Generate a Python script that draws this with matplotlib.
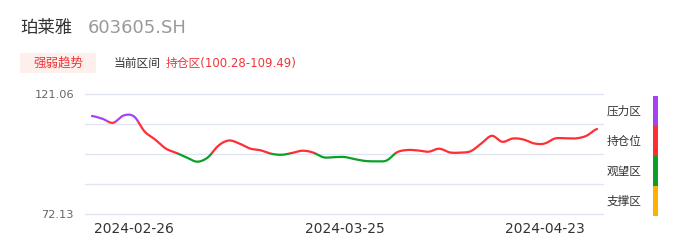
import numpy as np
import pandas as pd
import matplotlib
matplotlib.use('Agg')
import matplotlib.pyplot as plt
from matplotlib.patches import Rectangle

plt.rcParams['font.family'] = ['DejaVu Sans', 'Noto Sans CJK SC']

# header texts
stock_name = '珀莱雅'
stock_code = '603605.SH'
tag_text = '强弱趋势'
zone_caption = '当前区间'
current_zone = '持仓区(100.28-109.49)'

# trading days 2024-02-20 .. 2024-04-30 (Qingming holiday closed)
dates = [d.strftime('%Y-%m-%d') for d in pd.bdate_range('2024-02-20', '2024-04-30')
         if d.strftime('%Y-%m-%d') not in ('2024-04-04', '2024-04-05')]

prices = [112.09, 110.95, 109.32, 112.29, 111.89, 105.77, 102.51, 98.84, 97.08, 95.17,
          93.46, 95.17, 99.94, 102.10, 100.88, 98.84, 98.14, 96.74, 96.27, 97.00,
          97.94, 97.21, 95.25, 95.29, 95.37, 94.47, 93.74, 93.62, 93.94, 97.33,
          98.23, 98.02, 97.53, 98.76, 97.25, 97.17, 97.74, 100.88, 104.02, 101.57,
          102.92, 102.51, 100.92, 100.84, 102.92, 103.00, 102.96, 104.02, 106.79]

tick_dates = ['2024-02-26', '2024-03-25', '2024-04-23']
y_min, y_max = 72.13, 121.06

zone_names = ['压力区', '持仓位', '观望区', '支撑区']
zone_colors = ['#a244f4', '#ff2e35', '#0aa028', '#ffb100']
# lower edge of each zone as coloured on the line
zone_lows = [109.49, 96.9, 84.36, 0]

W, H = 686, 247


def fx(px):
    return px / W


def fy(py):
    return 1 - py / H


# catmull-rom, only for drawing a smooth line through the daily points
def smooth(y, n=12):
    y = np.asarray(y, dtype=float)
    xs, ys = [], []
    for i in range(len(y) - 1):
        p0 = y[max(i - 1, 0)]
        p1 = y[i]
        p2 = y[i + 1]
        p3 = y[min(i + 2, len(y) - 1)]
        t = np.linspace(0, 1, n, endpoint=False)
        ys.append(0.5 * (2 * p1 + (-p0 + p2) * t + (2 * p0 - 5 * p1 + 4 * p2 - p3) * t ** 2
                         + (-p0 + 3 * p1 - 3 * p2 + p3) * t ** 3))
        xs.append(i + t)
    xs.append([len(y) - 1])
    ys.append([y[-1]])
    return np.concatenate(xs), np.concatenate(ys)


fig = plt.figure(figsize=(W / 100, H / 100), dpi=100)
ax = fig.add_axes([fx(85), fy(214), fx(603) - fx(85), fy(94) - fy(214)])

sx, sy = smooth(prices)
n = len(prices)
highs = [1000] + zone_lows[:-1]
for lo, hi, c in zip(zone_lows, highs, zone_colors):
    line, = ax.plot(sx, sy, color=c, lw=1.6, solid_capstyle='round', zorder=3)
    clip = Rectangle((-10, lo), n + 20, hi - lo, transform=ax.transData)
    line.set_clip_path(clip)

ax.set_xlim(-0.665, n - 1 + 0.57)
ax.set_ylim(y_min, y_max)

grid_vals = np.linspace(y_min, y_max, 5)
for g in grid_vals:
    ax.axhline(g, color='#e0e6f1', lw=1, clip_on=False, zorder=1)
ax.set_yticks(grid_vals)
ax.set_yticklabels(['%.2f' % y_min, '', '', '', '%.2f' % y_max])

ax.set_xticks([dates.index(d) for d in tick_dates])
ax.set_xticklabels(tick_dates)
ax.tick_params(axis='x', length=0, pad=6, labelsize=10, labelcolor='#333333')
ax.tick_params(axis='y', length=0, pad=8, labelsize=8.2, labelcolor='#666666')
for s in ax.spines.values():
    s.set_visible(False)

# header
fig.text(fx(20), fy(28), stock_name, fontsize=12.5, color='#333333', va='center')
fig.text(fx(88), fy(28), stock_code, fontsize=13, color='#999999', va='center')
fig.add_artist(Rectangle((fx(20), fy(73)), fx(96) - fx(20), fy(53) - fy(73),
                         transform=fig.transFigure, color='#fdf0ec', lw=0))
fig.text(fx(58), fy(63), tag_text, fontsize=9, color='#f0353b', ha='center', va='center')
fig.text(fx(114), fy(63), zone_caption, fontsize=8.5, color='#333333', va='center')
fig.text(fx(166), fy(63), current_zone, fontsize=8.5, color='#f0353b', va='center')

# zone legend at the right
for i, (name, c) in enumerate(zip(zone_names, zone_colors)):
    top = 96 + 30 * i
    fig.add_artist(Rectangle((fx(653), fy(top + 30)), fx(658) - fx(653), fy(top) - fy(top + 30),
                             transform=fig.transFigure, color=c, lw=0))
    fig.text(fx(607), fy(top + 15), name, fontsize=8.4, color='#333333', va='center')

fig.savefig('out.png', dpi=100)
